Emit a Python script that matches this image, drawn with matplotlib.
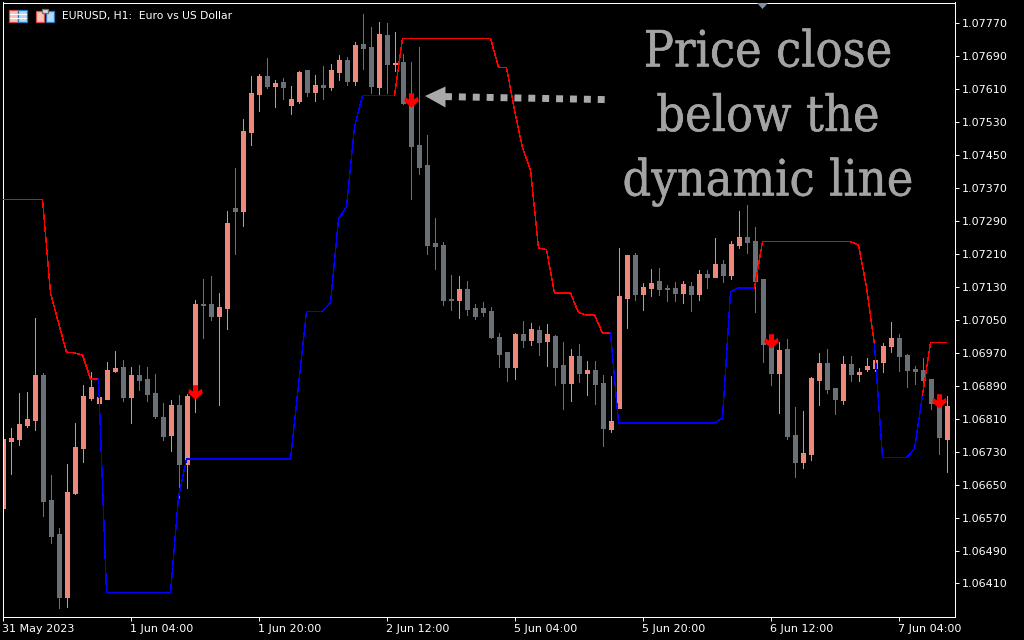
# Recreate the MT5 EURUSD H1 chart with the dynamic line and sell arrows
import matplotlib

matplotlib.use("Agg")
import matplotlib.patheffects as path_effects
import matplotlib.pyplot as plt
from matplotlib.patches import Polygon, Rectangle
from matplotlib.path import Path

# Candles, in points above 1.00000
opens = [
    106593, 106756, 106761, 106795, 106807, 106916, 106613, 106530, 106377, 106630,
    106739, 106860, 106848, 106858, 106926, 106936, 106863, 106916, 106907, 106873,
    106814, 106771, 106843, 106700, 106865, 107089, 107089, 107060, 107079, 107322,
    107315, 107506, 107599, 107642, 107618, 107628, 107572, 107582, 107657, 107604,
    107621, 107616, 107652, 107681, 107630, 107720, 107713, 107616, 107742, 107672,
    107676, 107577, 107475, 107426, 107237, 107232, 107101, 107098, 107125, 107079,
    107079, 107072, 107009, 106972, 106936, 107016, 107001, 107026, 106999, 107011,
    106941, 106897, 106962, 106921, 106928, 106897, 106785, 106836, 107103, 107208,
    107113, 107128, 107145, 107128, 107128, 107115, 107132, 107113, 107162, 107154,
    107186, 107159, 107232, 107251, 107242, 107149, 106987, 106921, 106979, 106771,
    106705, 106724, 106904, 106945, 106885, 106856, 106943, 106919, 106931, 106933,
    106948, 106987, 107006, 106965, 106931, 106928, 106907, 106851, 106761,
]
highs = [
    106765, 106788, 106873, 106875, 107055, 106921, 106673, 106545, 106700, 106800,
    106892, 106924, 106873, 106948, 106975, 106953, 106936, 106941, 106936, 106919,
    106848, 106856, 106868, 106870, 107098, 107149, 107157, 107115, 107315, 107419,
    107538, 107642, 107647, 107686, 107633, 107638, 107618, 107655, 107657, 107645,
    107667, 107672, 107693, 107689, 107725, 107793, 107761, 107774, 107771, 107749,
    107696, 107676, 107713, 107499, 107298, 107239, 107159, 107157, 107145, 107089,
    107094, 107081, 107018, 106972, 107018, 107047, 107043, 107035, 107040, 107013,
    106996, 106979, 106992, 106950, 106950, 106916, 106914, 107225, 107208, 107213,
    107140, 107174, 107176, 107135, 107142, 107145, 107142, 107171, 107171, 107249,
    107196, 107242, 107315, 107329, 107276, 107149, 107013, 106996, 107004, 106839,
    106829, 106911, 106970, 106979, 106885, 106962, 106962, 106933, 106958, 106955,
    106994, 107045, 107016, 106967, 106938, 106958, 106907, 106851, 106865,
]
lows = [
    106590, 106676, 106746, 106790, 106783, 106574, 106508, 106350, 106353, 106627,
    106705, 106856, 106824, 106858, 106924, 106853, 106800, 106880, 106853, 106812,
    106758, 106732, 106618, 106642, 106826, 107006, 107050, 106843, 107028, 107210,
    107278, 107475, 107557, 107613, 107567, 107587, 107550, 107577, 107594, 107582,
    107587, 107608, 107633, 107621, 107621, 107659, 107601, 107599, 107601, 107655,
    107574, 107344, 107404, 107210, 107174, 107086, 107074, 107055, 107062, 107052,
    107060, 107006, 106936, 106902, 106907, 106984, 106989, 106965, 106938, 106892,
    106834, 106853, 106899, 106868, 106846, 106744, 106778, 106836, 107030, 107098,
    107074, 107108, 107111, 107096, 107096, 107091, 107072, 107098, 107128, 107154,
    107142, 107149, 107225, 107213, 107069, 106948, 106892, 106824, 106761, 106669,
    106690, 106710, 106843, 106873, 106822, 106846, 106902, 106902, 106926, 106926,
    106924, 106972, 106926, 106887, 106894, 106892, 106834, 106724, 106681,
]
closes = [
    106761, 106763, 106797, 106809, 106916, 106610, 106525, 106377, 106632, 106741,
    106865, 106887, 106863, 106928, 106933, 106863, 106916, 106904, 106870, 106817,
    106768, 106843, 106700, 106865, 107089, 107086, 107060, 107081, 107285, 107315,
    107509, 107601, 107642, 107618, 107625, 107616, 107587, 107652, 107604, 107621,
    107616, 107657, 107681, 107630, 107718, 107710, 107618, 107744, 107672, 107674,
    107577, 107472, 107421, 107232, 107230, 107098, 107098, 107125, 107077, 107060,
    107069, 107009, 106967, 106936, 107016, 107001, 107028, 106996, 107016, 106936,
    106897, 106962, 106921, 106928, 106894, 106788, 106805, 107108, 107208, 107113,
    107130, 107140, 107125, 107125, 107115, 107137, 107113, 107162, 107154, 107186,
    107159, 107234, 107251, 107239, 107145, 106992, 106921, 106977, 106768, 106705,
    106727, 106909, 106945, 106882, 106858, 106943, 106919, 106924, 106938, 106953,
    106987, 107006, 106962, 106928, 106926, 106904, 106848, 106766, 106841,
]

# Dynamic line, one value per bar, with the bars where it changes colour
dynamic_line = [
    107343, 107343, 107343, 107343, 107343, 107343, 107115, 107043, 106972, 106970,
    106965, 106907, 106907, 106388, 106388, 106388, 106388, 106388, 106388, 106388,
    106388, 106388, 106620, 106712, 106712, 106712, 106712, 106712, 106712, 106712,
    106712, 106712, 106712, 106712, 106712, 106712, 106712, 106892, 107071, 107071,
    107071, 107092, 107295, 107325, 107519, 107595, 107595, 107595, 107595, 107595,
    107734, 107734, 107734, 107734, 107734, 107734, 107734, 107734, 107734, 107734,
    107734, 107734, 107664, 107663, 107560, 107468, 107414, 107225, 107221, 107115,
    107115, 107115, 107068, 107062, 107062, 107018, 107018, 106800, 106800, 106800,
    106800, 106800, 106800, 106800, 106800, 106800, 106800, 106800, 106800, 106800,
    106812, 107118, 107128, 107128, 107128, 107240, 107240, 107240, 107240, 107240,
    107240, 107240, 107240, 107240, 107240, 107240, 107240, 107232, 107130, 106989,
    106716, 106716, 106716, 106716, 106737, 106868, 106995, 106995, 106995,
]
line_changes = [0, 12, 49, 76, 94, 109, 115, 118]
line_colors = ["#ff0000", "#0000ff"]

# Sell arrows
arrow_bars = [24, 51, 96, 117]
arrow_prices = [106876, 107583, 106998, 106854]

# Axis labels
price_ticks = [1.0641 + 0.0008 * n for n in range(18)]
date_ticks = list(range(0, 113, 16))
date_labels = [
    "31 May 2023", "1 Jun 04:00", "1 Jun 20:00", "2 Jun 12:00",
    "5 Jun 04:00", "5 Jun 20:00", "6 Jun 12:00", "7 Jun 04:00",
]
title = "EURUSD, H1:  Euro vs US Dollar"
note_lines = ["Price close", "below the", "dynamic line"]

UP_COLOR = "#ee887a"
DOWN_COLOR = "#697078"
NOTE_COLOR = "#a3a3a3"
SCALE = 100000.0

fig = plt.figure(figsize=(10.24, 6.4), dpi=100, facecolor="black")
axis = fig.add_axes([2.5 / 1024, 1 - 616.5 / 640, 952 / 1024, 614 / 640])
axis.set_facecolor("black")

# Wicks and bodies
bars = range(len(opens))
colors = [UP_COLOR if c > o else DOWN_COLOR for o, c in zip(opens, closes)]
axis.vlines(
    bars,
    [v / SCALE for v in lows],
    [v / SCALE for v in highs],
    colors=colors,
    linewidth=0.72,
    antialiased=False,
)
axis.bar(
    bars,
    [abs(c - o) / SCALE for o, c in zip(opens, closes)],
    bottom=[min(o, c) / SCALE for o, c in zip(opens, closes)],
    width=0.5,
    color=colors,
    edgecolor=colors,
    linewidth=0.72,
    antialiased=False,
    zorder=2,
)

# Dynamic line, alternating red and blue between the change bars
for n, (start, stop) in enumerate(zip(line_changes[:-1], line_changes[1:])):
    axis.plot(
        range(start, stop + 1),
        [v / SCALE for v in dynamic_line[start : stop + 1]],
        color=line_colors[n % 2],
        linewidth=0.3,
        antialiased=False,
        zorder=3,
    )

# Down arrow marker, a short stem on a chevron head
arrow_marker = Path(
    [
        (-0.35, 1), (0.35, 1), (0.35, 0.15), (0.85, 0.5), (1, -0.1), (0, -1),
        (-1, -0.1), (-0.85, 0.5), (-0.35, 0.15), (-0.35, 1),
    ],
    closed=True,
)
axis.plot(
    arrow_bars,
    [v / SCALE for v in arrow_prices],
    linestyle="none",
    marker=arrow_marker,
    markersize=10.5,
    markerfacecolor="#ff0000",
    markeredgewidth=0,
    zorder=4,
)

axis.set_xlim(0, 119)
axis.set_ylim(1.063298, 1.07821)
axis.yaxis.tick_right()
axis.set_yticks(price_ticks, [f"{p:.5f}" for p in price_ticks])
axis.set_xticks(date_ticks, date_labels, ha="left")
axis.tick_params(
    "both", colors="white", length=3.2, width=0.72, labelsize=8, pad=2
)
for spine in axis.spines.values():
    spine.set_color("white")
    spine.set_linewidth(0.72)

# Everything that sits on top of the chart is placed in screen pixels
overlay = fig.add_axes([0, 0, 1, 1], facecolor="none")
overlay.set_xlim(0, 1024)
overlay.set_ylim(640, 0)
overlay.axis("off")

overlay.text(62, 16, title, color="white", fontsize=7.75, va="center")

for n, line in enumerate(note_lines):
    overlay.text(
        768,
        66.5 + 64.5 * n,
        line,
        color=NOTE_COLOR,
        fontsize=36,
        family="DejaVu Serif",
        stretch="condensed",
        ha="center",
        va="baseline",
        path_effects=[path_effects.withStroke(linewidth=0.35, foreground=NOTE_COLOR)],
    )

# Pointer to the signal candle
overlay.plot(
    [445, 605],
    [96.6, 99.6],
    color="#a9a9a9",
    linewidth=5.0,
    linestyle=(0, (1, 1)),
    dash_capstyle="butt",
)
overlay.add_patch(
    Polygon([(425, 96), (445.5, 86.5), (445.5, 107.5)], color="#a9a9a9", linewidth=0)
)

# Chart shift marker
overlay.add_patch(
    Polygon([(757, 3), (768, 3), (762.5, 9)], color="#7d91a5", linewidth=0)
)

# Toolbar icons
overlay.add_patch(Rectangle((8.5, 9.5), 9, 12, fc="#f7c4bc", ec="#d84a42", lw=0.9))
overlay.add_patch(Rectangle((17.5, 9.5), 9, 12, fc="#b5d8f2", ec="#2a78c0", lw=0.9))
for y in (13.5, 17.5):
    overlay.plot([9.5, 25.5], [y, y], color="white", linewidth=0.8)
overlay.add_patch(Rectangle((35.5, 10.5), 8, 11, fc="#f7c4bc", ec="#d84a42", lw=0.9))
overlay.add_patch(Rectangle((45.5, 10.5), 8, 11, fc="#b5d8f2", ec="#2a78c0", lw=0.9))
overlay.add_patch(Rectangle((41.5, 8.5), 6, 4, fc="#d8d8d8", ec="#707070", lw=0.9))

fig.savefig("out.png", dpi=100, facecolor="black")
